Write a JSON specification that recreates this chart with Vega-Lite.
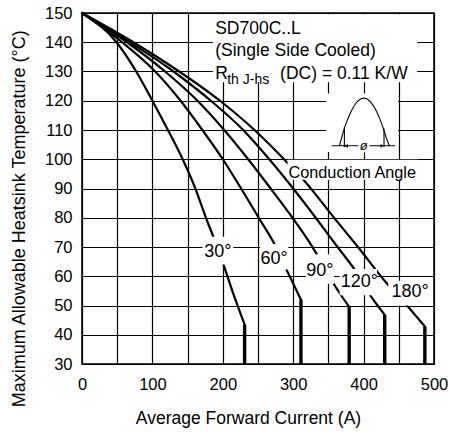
{
  "$schema": "https://vega.github.io/schema/vega-lite/v6.json",
  "width": 352,
  "height": 351,
  "autosize": {"type": "none"},
  "padding": {"left": 82, "top": 13, "right": 15, "bottom": 69},
  "background": "white",
  "config": {
    "font": "Liberation Sans",
    "view": {"stroke": "black", "strokeWidth": 1.5},
    "axis": {
      "grid": true, "gridColor": "black", "gridWidth": 1.2, "gridOpacity": 1,
      "domain": false, "ticks": false, "tickSize": 0,
      "labelOverlap": false, "labelBound": false, "labelFlush": false,
      "labelColor": "black", "labelFontSize": 16.5, "labelFont": "Liberation Sans",
      "titleColor": "black", "titleFontWeight": "normal", "titleFont": "Liberation Sans"
    }
  },
  "datasets": {
    "curves": [
      {"angle": "30°", "current": 0, "temp": 150},
      {"angle": "30°", "current": 49, "temp": 140},
      {"angle": "30°", "current": 77, "temp": 130},
      {"angle": "30°", "current": 100, "temp": 120},
      {"angle": "30°", "current": 122, "temp": 110},
      {"angle": "30°", "current": 143, "temp": 100},
      {"angle": "30°", "current": 161, "temp": 90},
      {"angle": "30°", "current": 176, "temp": 80},
      {"angle": "30°", "current": 189, "temp": 72},
      {"angle": "30°", "current": 201, "temp": 64},
      {"angle": "30°", "current": 215, "temp": 54},
      {"angle": "30°", "current": 231, "temp": 43.5},
      {"angle": "60°", "current": 0, "temp": 150},
      {"angle": "60°", "current": 57, "temp": 140},
      {"angle": "60°", "current": 104, "temp": 130},
      {"angle": "60°", "current": 140, "temp": 120},
      {"angle": "60°", "current": 171, "temp": 110},
      {"angle": "60°", "current": 200, "temp": 100},
      {"angle": "60°", "current": 226, "temp": 90},
      {"angle": "60°", "current": 251, "temp": 80},
      {"angle": "60°", "current": 274, "temp": 70.7},
      {"angle": "60°", "current": 291, "temp": 62},
      {"angle": "60°", "current": 303, "temp": 56},
      {"angle": "60°", "current": 311, "temp": 52},
      {"angle": "90°", "current": 0, "temp": 150},
      {"angle": "90°", "current": 64, "temp": 140},
      {"angle": "90°", "current": 118, "temp": 130},
      {"angle": "90°", "current": 164, "temp": 120},
      {"angle": "90°", "current": 202, "temp": 110},
      {"angle": "90°", "current": 236, "temp": 100},
      {"angle": "90°", "current": 268, "temp": 90},
      {"angle": "90°", "current": 299, "temp": 80},
      {"angle": "90°", "current": 322, "temp": 72},
      {"angle": "90°", "current": 336, "temp": 66.5},
      {"angle": "90°", "current": 357, "temp": 57.6},
      {"angle": "90°", "current": 379.5, "temp": 49.5},
      {"angle": "120°", "current": 0, "temp": 150},
      {"angle": "120°", "current": 68, "temp": 140},
      {"angle": "120°", "current": 130, "temp": 130},
      {"angle": "120°", "current": 183, "temp": 120},
      {"angle": "120°", "current": 229, "temp": 110},
      {"angle": "120°", "current": 266, "temp": 100},
      {"angle": "120°", "current": 300, "temp": 90},
      {"angle": "120°", "current": 332, "temp": 80},
      {"angle": "120°", "current": 363, "temp": 70},
      {"angle": "120°", "current": 388, "temp": 62},
      {"angle": "120°", "current": 409, "temp": 53.6},
      {"angle": "120°", "current": 430, "temp": 46.8},
      {"angle": "180°", "current": 0, "temp": 150},
      {"angle": "180°", "current": 73, "temp": 140},
      {"angle": "180°", "current": 138, "temp": 130},
      {"angle": "180°", "current": 196, "temp": 120},
      {"angle": "180°", "current": 245, "temp": 110},
      {"angle": "180°", "current": 287, "temp": 100},
      {"angle": "180°", "current": 317, "temp": 92.3},
      {"angle": "180°", "current": 358, "temp": 80},
      {"angle": "180°", "current": 392, "temp": 70},
      {"angle": "180°", "current": 435, "temp": 57},
      {"angle": "180°", "current": 461, "temp": 50.2},
      {"angle": "180°", "current": 487, "temp": 42.8}
    ],
    "ends": [
      {"angle": "30°", "current": 231, "temp": 43.5},
      {"angle": "60°", "current": 311, "temp": 52},
      {"angle": "90°", "current": 379.5, "temp": 49.5},
      {"angle": "120°", "current": 430, "temp": 46.8},
      {"angle": "180°", "current": 487, "temp": 42.8}
    ],
    "boxes": [
      {"x1": 186, "x2": 476, "y1": 126.3, "y2": 149.6},
      {"x1": 347, "x2": 449, "y1": 102.5, "y2": 122.5},
      {"x1": 292, "x2": 478, "y1": 93, "y2": 99.8},
      {"x1": 171, "x2": 215, "y1": 64, "y2": 73.5},
      {"x1": 253, "x2": 293, "y1": 62.3, "y2": 71},
      {"x1": 318, "x2": 358, "y1": 57.4, "y2": 67.5},
      {"x1": 366, "x2": 419, "y1": 53.5, "y2": 62.5},
      {"x1": 435, "x2": 494, "y1": 50, "y2": 58.5}
    ],
    "wave": [
      {"x": 365.6, "y": 104.6},
      {"x": 369, "y": 107.5},
      {"x": 373, "y": 110.8},
      {"x": 378, "y": 114},
      {"x": 384, "y": 117.2},
      {"x": 390, "y": 119.4},
      {"x": 396, "y": 120.6},
      {"x": 400, "y": 120.9},
      {"x": 405, "y": 120.6},
      {"x": 411, "y": 119.3},
      {"x": 417, "y": 117},
      {"x": 423, "y": 113.8},
      {"x": 428, "y": 110.5},
      {"x": 432, "y": 107.5},
      {"x": 436.6, "y": 104.6}
    ],
    "waverules": [
      {"x": 354.8, "x2": 444.6, "y": 104.6, "y2": 104.6},
      {"x": 372.7, "x2": 372.7, "y": 104.2, "y2": 111.1},
      {"x": 429, "x2": 429, "y": 104.2, "y2": 110.5}
    ],
    "arrowL": [{"x": 375.5, "y": 104.6}],
    "arrowR": [{"x": 426.2, "y": 104.6}],
    "phi": [{"t": "ø", "x": 400, "y": 104.6}],
    "titles": [
      {"t": "SD700C..L", "x": 189.2, "y": 142.9},
      {"t": "(Single Side Cooled)", "x": 189.2, "y": 135.4},
      {"t": "R", "x": 189.2, "y": 127.6},
      {"t": "(DC) = 0.11 K/W", "x": 281.4, "y": 127.6}
    ],
    "sub": [{"t": "th J-hs", "x": 206.2, "y": 125.6}],
    "cond": [{"t": "Conduction Angle", "x": 293.2, "y": 93.6}],
    "angles": [
      {"t": "30°", "x": 193, "y": 68.3},
      {"t": "60°", "x": 273, "y": 65.9},
      {"t": "90°", "x": 337.7, "y": 61.9},
      {"t": "120°", "x": 394, "y": 58.1},
      {"t": "180°", "x": 466, "y": 54.7}
    ]
  },
  "encoding": {
    "x": {"type": "quantitative",
          "scale": {"domain": [0, 500], "nice": false, "zero": false},
          "axis": {"values": [0, 50, 100, 150, 200, 250, 300, 350, 400, 450, 500],
                   "labelExpr": "datum.value % 100 === 0 ? datum.label : ''",
                   "labelPadding": 12,
                   "title": "Average Forward Current (A)", "titleFontSize": 17.5,
                   "titleX": 166, "titleY": 59.3, "titleAlign": "center", "titleBaseline": "alphabetic"}},
    "y": {"type": "quantitative",
          "scale": {"domain": [30, 150], "nice": false, "zero": false},
          "axis": {"values": [30, 40, 50, 60, 70, 80, 90, 100, 110, 120, 130, 140, 150],
                   "labelPadding": 10,
                   "title": "Maximum Allowable Heatsink Temperature (°C)", "titleFontSize": 18,
                   "titleAngle": 270, "titleX": -57.4, "titleY": 205.3, "titleAlign": "center", "titleBaseline": "alphabetic"}}
  },
  "layer": [
    {
      "data": {"name": "curves"},
      "mark": {"type": "line", "color": "black", "strokeWidth": 2.2, "interpolate": "monotone", "strokeCap": "round", "strokeJoin": "round"},
      "encoding": {
        "x": {"field": "current"},
        "y": {"field": "temp"},
        "detail": {"field": "angle"}
      }
    },
    {
      "data": {"name": "ends"},
      "mark": {"type": "rule", "color": "black", "strokeWidth": 3.4},
      "encoding": {
        "x": {"field": "current"},
        "y": {"field": "temp"},
        "y2": {"datum": 30}
      }
    },
    {
      "data": {"name": "boxes"},
      "mark": {"type": "rect", "fill": "white", "strokeWidth": 0},
      "encoding": {
        "x": {"field": "x1"},
        "x2": {"field": "x2"},
        "y": {"field": "y1"},
        "y2": {"field": "y2"}
      }
    },
    {
      "data": {"name": "wave"},
      "mark": {"type": "line", "color": "black", "strokeWidth": 1.1, "interpolate": "monotone"},
      "encoding": {
        "x": {"field": "x"},
        "y": {"field": "y"}
      }
    },
    {
      "data": {"name": "waverules"},
      "mark": {"type": "rule", "color": "black", "strokeWidth": 1.1},
      "encoding": {
        "x": {"field": "x"},
        "x2": {"field": "x2"},
        "y": {"field": "y"},
        "y2": {"field": "y2"}
      }
    },
    {
      "data": {"name": "arrowL"},
      "mark": {"type": "point", "shape": "triangle-left", "filled": true, "color": "black", "size": 14, "opacity": 1},
      "encoding": {
        "x": {"field": "x"},
        "y": {"field": "y"}
      }
    },
    {
      "data": {"name": "arrowR"},
      "mark": {"type": "point", "shape": "triangle-right", "filled": true, "color": "black", "size": 14, "opacity": 1},
      "encoding": {
        "x": {"field": "x"},
        "y": {"field": "y"}
      }
    },
    {
      "data": {"name": "phi"},
      "mark": {"type": "text", "fontSize": 13, "fontStyle": "italic", "fill": "white", "stroke": "white", "strokeWidth": 5, "baseline": "middle", "align": "center"},
      "encoding": {
        "x": {"field": "x"},
        "y": {"field": "y"},
        "text": {"field": "t"}
      }
    },
    {
      "data": {"name": "phi"},
      "mark": {"type": "text", "fontSize": 13, "fontStyle": "italic", "color": "black", "baseline": "middle", "align": "center"},
      "encoding": {
        "x": {"field": "x"},
        "y": {"field": "y"},
        "text": {"field": "t"}
      }
    },
    {
      "data": {"name": "titles"},
      "mark": {"type": "text", "fontSize": 17.5, "color": "black", "align": "left", "baseline": "alphabetic"},
      "encoding": {
        "x": {"field": "x"},
        "y": {"field": "y"},
        "text": {"field": "t"}
      }
    },
    {
      "data": {"name": "sub"},
      "mark": {"type": "text", "fontSize": 14, "color": "black", "align": "left", "baseline": "alphabetic"},
      "encoding": {
        "x": {"field": "x"},
        "y": {"field": "y"},
        "text": {"field": "t"}
      }
    },
    {
      "data": {"name": "cond"},
      "mark": {"type": "text", "fontSize": 16.3, "color": "black", "align": "left", "baseline": "alphabetic"},
      "encoding": {
        "x": {"field": "x"},
        "y": {"field": "y"},
        "text": {"field": "t"}
      }
    },
    {
      "data": {"name": "angles"},
      "mark": {"type": "text", "fontSize": 18, "color": "black", "align": "center", "baseline": "middle"},
      "encoding": {
        "x": {"field": "x"},
        "y": {"field": "y"},
        "text": {"field": "t"}
      }
    }
  ]
}
